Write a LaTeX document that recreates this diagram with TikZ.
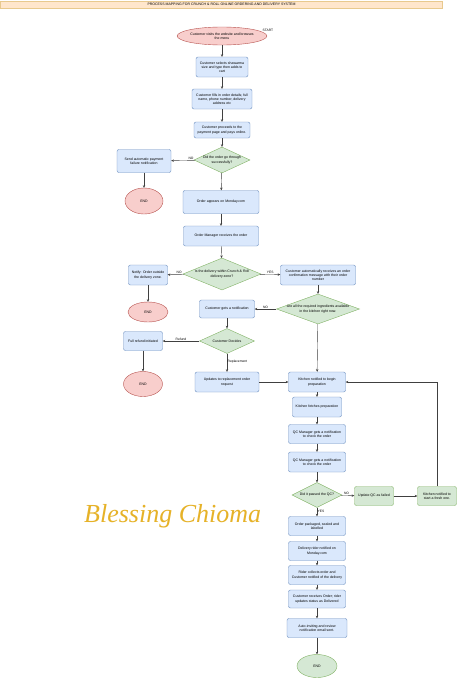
\documentclass[tikz,border=0pt]{standalone}
\usepackage{fontspec}
\setmainfont{Liberation Sans}
\newfontfamily\signfont{Liberation Serif}
\usepackage{tikz}
\usetikzlibrary{arrows.meta,shapes.geometric}

\definecolor{boxblue}{HTML}{DAE8FC}
\definecolor{lineblue}{HTML}{6C8EBF}
\definecolor{boxgreen}{HTML}{D5E8D4}
\definecolor{linegreen}{HTML}{82B366}
\definecolor{boxred}{HTML}{F8CECC}
\definecolor{linered}{HTML}{B85450}
\definecolor{headfill}{HTML}{FFE6CC}
\definecolor{headline}{HTML}{E8C98E}
\definecolor{signgold}{RGB}{230,178,40}

\begin{document}
\begin{tikzpicture}[x=1pt, y=-1pt, font=\fontsize{3.5}{4.2}\selectfont]
      \tikzstyle{blockbox}=[draw=lineblue, fill=boxblue, rounded corners=2pt, align=center, inner sep=1pt, line width=0.4pt];
      \tikzstyle{greenbox}=[blockbox, draw=linegreen, fill=boxgreen];
      \tikzstyle{decision}=[diamond, draw=linegreen, fill=boxgreen, inner sep=0pt, line width=0.4pt];
      \tikzstyle{endred}=[ellipse, draw=linered, fill=boxred, inner sep=0pt, align=center, line width=0.4pt];
      \tikzstyle{endgreen}=[ellipse, draw=linegreen, fill=boxgreen, inner sep=0pt, line width=0.4pt];
      \tikzstyle{flow}=[draw=black!75, line width=0.4pt, -{Stealth[length=2.6pt,width=2.4pt]}];
      \tikzstyle{tag}=[inner sep=0.5pt, font=\fontsize{3.3}{3.9}\selectfont];
      \tikzstyle{inside}=[align=center, inner sep=0pt];

      \useasboundingbox (0, 0) rectangle (461, 680);
      \fill[white] (0, 0) rectangle (461, 680);

      %title bar
      \node[draw=headline, fill=headfill, minimum width=442pt, minimum height=7.5pt, inner sep=0pt] (title) at (221.5, 4.5)
         {PROCESS MAPPING FOR CRUNCH \& ROLL ONLINE ORDERING AND DELIVERY SYSTEM};

      %ordering
      \node[endred, minimum width=80pt, minimum height=18pt] (start) at (222, 36)
         {Customer visits the website and browses\\the menu};
      \node[tag] (starttag) at (268, 30) {START};
      \node[blockbox, minimum width=52pt, minimum height=20pt] (selectsize) at (222, 67)
         {Customer selects shawarma\\size and type then adds to\\cart};
      \node[blockbox, minimum width=60pt, minimum height=20pt] (filldetails) at (222, 99)
         {Customer fills in order details; full\\name, phone number, delivery\\address etc};
      \node[blockbox, minimum width=56pt, minimum height=16pt] (pay) at (222, 130)
         {Customer proceeds to the\\payment page and pays online.};
      \node[decision, minimum width=56pt, minimum height=26pt,
         label={[inside]center:Did the order go through\\successfully?}] (paycheck) at (222, 160) {};
      \node[blockbox, minimum width=54pt, minimum height=23pt] (payfail) at (144, 161)
         {Send automatic payment\\failure notification};
      \node[endred, minimum width=38pt, minimum height=26pt] (endA) at (144, 201) {END};
      \node[blockbox, minimum width=76pt, minimum height=23pt] (monday) at (221, 202)
         {Order appears on Monday.com};
      \node[blockbox, minimum width=75pt, minimum height=20pt] (manager) at (221, 236)
         {Order Manager receives the order};

      %delivery zone
      \node[decision, minimum width=78pt, minimum height=32pt,
         label={[inside]center:Is the delivery within Crunch \& Roll\\delivery zone?}] (zonecheck) at (222, 274) {};
      \node[blockbox, minimum width=39pt, minimum height=20pt] (outzone) at (148, 275)
         {Notify: Order outside\\the delivery zone.};
      \node[endred, minimum width=40pt, minimum height=20pt] (endB) at (148, 312) {END};
      \node[blockbox, minimum width=75pt, minimum height=20pt] (confirm) at (318, 275)
         {Customer automatically receives an order\\confirmation message with their order\\number};

      %ingredients
      \node[decision, minimum width=83pt, minimum height=30pt,
         label={[inside]center:Are all the required ingredients available\\in the kitchen right now.}] (stockcheck) at (318, 309) {};
      \node[blockbox, minimum width=55pt, minimum height=18pt] (notify) at (227, 309)
         {Customer gets a notification};
      \node[decision, minimum width=55pt, minimum height=25pt,
         label={[inside]center:Customer Decides}] (decide) at (227, 341) {};
      \node[blockbox, minimum width=39pt, minimum height=19pt] (refund) at (143, 341)
         {Full refund initiated};
      \node[endred, minimum width=39pt, minimum height=25pt] (endC) at (143, 384) {END};
      \node[blockbox, minimum width=64pt, minimum height=20pt] (replace) at (227, 382)
         {Updates to replacement order\\request};

      %kitchen
      \node[blockbox, minimum width=57pt, minimum height=20pt] (prep) at (317, 382)
         {Kitchen notified to begin\\preparation};
      \node[blockbox, minimum width=49pt, minimum height=20pt] (fetch) at (317, 407)
         {Kitchen fetches preparation};
      \node[blockbox, minimum width=57pt, minimum height=19pt] (qcA) at (317, 434)
         {QC Manager gets a notification\\to check the order};
      \node[blockbox, minimum width=57pt, minimum height=20pt] (qcB) at (317, 462)
         {QC Manager gets a notification\\to check the order};
      \node[decision, minimum width=50pt, minimum height=25pt,
         label={[inside]center:Did it passed the QC?}] (qccheck) at (317, 495) {};
      \node[greenbox, minimum width=39pt, minimum height=19pt] (qcfail) at (374, 496)
         {Update QC as failed};
      \node[greenbox, minimum width=39pt, minimum height=19pt] (fresh) at (437, 496)
         {Kitchen notified to\\start a fresh one.};

      %dispatch
      \node[blockbox, minimum width=57pt, minimum height=19pt] (pack) at (317, 526)
         {Order packaged, sealed and\\labelled};
      \node[blockbox, minimum width=57pt, minimum height=19pt] (rider) at (317, 551)
         {Delivery rider notified on\\Monday.com};
      \node[blockbox, minimum width=57pt, minimum height=19pt] (collect) at (317, 575)
         {Rider collects order and\\Customer notified of the delivery};
      \node[blockbox, minimum width=57pt, minimum height=18pt] (received) at (317, 599)
         {Customer receives Order; rider\\updates status as Delivered};
      \node[blockbox, minimum width=60pt, minimum height=19pt] (review) at (317, 628)
         {Auto-inviting and review\\notification email sent.};
      \node[endgreen, minimum width=40pt, minimum height=23pt] (endD) at (317, 666) {END};

      \node[text=signgold, anchor=base west, inner sep=0pt, font=\signfont\itshape\fontsize{26}{29}\selectfont] (signature) at (84, 522)
         {Blessing Chioma};

      %connectors
      \draw[flow] (start) -- (selectsize);
      \draw[flow] (selectsize) -- (filldetails);
      \draw[flow] (filldetails) -- (pay);
      \draw[flow] (pay) -- (paycheck);
      \draw[flow] (paycheck) -- node[tag, above, pos=0.15] {NO} (payfail);
      \draw[flow] (payfail) -- (endA);
      \draw[flow] (paycheck) -- (monday);
      \draw[flow] (monday) -- (manager);
      \draw[flow] (manager) -- (zonecheck);
      \draw[flow] (zonecheck) -- node[tag, above, pos=0.3] {NO} (outzone);
      \draw[flow] (outzone) -- (endB);
      \draw[flow] (zonecheck) -- node[tag, above, pos=0.5] {YES} (confirm);
      \draw[flow] (confirm) -- (stockcheck);
      \draw[flow] (stockcheck) -- node[tag, above, pos=0.5] {NO} (notify);
      \draw[flow] (notify) -- (decide);
      \draw[flow] (decide) -- node[tag, above, pos=0.5] {Refund} (refund);
      \draw[flow] (refund) -- (endC);
      \draw[flow] (decide) -- node[tag, right, pos=0.45] {Replacement} (replace);
      \draw[flow] (stockcheck) -- (prep);
      \draw[flow] (replace) -- (prep);
      \draw[flow] (prep) -- (fetch);
      \draw[flow] (fetch) -- (qcA);
      \draw[flow] (qcA) -- (qcB);
      \draw[flow] (qcB) -- (qccheck);
      \draw[flow] (qccheck) -- node[tag, above, pos=0.4] {NO} (qcfail);
      \draw[flow] (qcfail) -- (fresh);
      \draw[flow] (fresh.north) |- (prep.east);
      \draw[flow] (qccheck) -- node[tag, right, pos=0.45] {YES} (pack);
      \draw[flow] (pack) -- (rider);
      \draw[flow] (rider) -- (collect);
      \draw[flow] (collect) -- (received);
      \draw[flow] (received) -- (review);
      \draw[flow] (review) -- (endD);
   \end{tikzpicture}
\end{document}
